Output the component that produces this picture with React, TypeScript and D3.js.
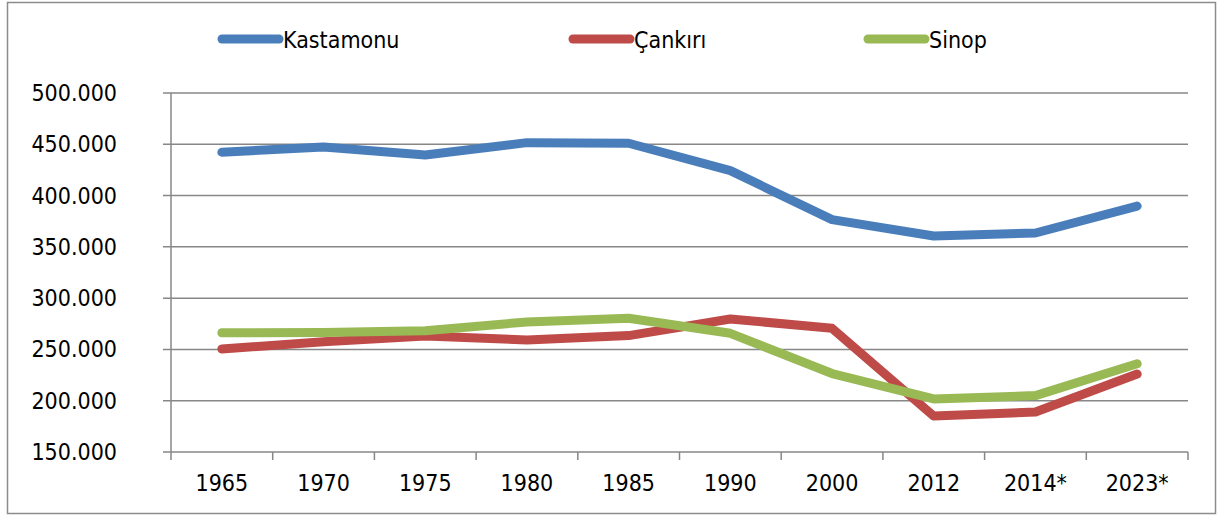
import { useEffect, useRef } from 'react';
import * as d3 from 'd3';

const years = ['1965', '1970', '1975', '1980', '1985', '1990', '2000', '2012', '2014*', '2023*'];
const kastamonu = [442300, 447300, 439600, 451600, 451000, 424300, 376500, 360600, 363500, 389800];
const cankiri = [250400, 257500, 263000, 259200, 263500, 279700, 270600, 185000, 189000, 226000];
const sinop = [266300, 266500, 268300, 276800, 280400, 265700, 226500, 201700, 205000, 236000];
const yTicks = [150000, 200000, 250000, 300000, 350000, 400000, 450000, 500000];

const seriesList = [
  { name: 'Kastamonu', values: kastamonu, color: '#4A7EBB', legendX: 222 },
  { name: 'Çankırı', values: cankiri, color: '#BE4B48', legendX: 573 },
  { name: 'Sinop', values: sinop, color: '#98B954', legendX: 868 },
];

// Turkish style thousands separator
const fmt = (v: number) => d3.format(',')(v).replace(/,/g, '.');

export default function App() {
  const svgRef = useRef<SVGSVGElement>(null);

  useEffect(() => {
    if (!svgRef.current) return;
    const width = 1217;
    const height = 516;
    const margin = { top: 93, right: 29, bottom: 64, left: 171 };
    const font = '"DejaVu Sans Condensed", "DejaVu Sans", sans-serif';

    const svg = d3.select(svgRef.current);
    svg.selectAll('*').remove();
    svg.attr('width', width).attr('height', height);

    // outer frame
    svg
      .append('rect')
      .attr('x', 7.5)
      .attr('y', 2.5)
      .attr('width', 1208)
      .attr('height', 511)
      .attr('fill', '#fff')
      .attr('stroke', '#8c8c8c')
      .attr('stroke-width', 1.5);

    const x = d3
      .scaleBand()
      .domain(years)
      .range([margin.left, width - margin.right]);
    const y = d3
      .scaleLinear()
      .domain([150000, 500000])
      .range([height - margin.bottom, margin.top]);

    const g = svg.append('g');

    // gridlines
    g.selectAll('.grid')
      .data(yTicks)
      .enter()
      .append('line')
      .attr('x1', margin.left - 8)
      .attr('x2', width - margin.right)
      .attr('y1', (d) => y(d))
      .attr('y2', (d) => y(d))
      .attr('stroke', '#878787')
      .attr('stroke-width', 1.5);

    // y axis line
    g.append('line')
      .attr('x1', margin.left)
      .attr('x2', margin.left)
      .attr('y1', margin.top)
      .attr('y2', height - margin.bottom + 8)
      .attr('stroke', '#878787')
      .attr('stroke-width', 1.5);

    // x ticks at band edges
    const edges = years.map((yr) => x(yr)!).concat([width - margin.right]);
    g.selectAll('.xtick')
      .data(edges.slice(1))
      .enter()
      .append('line')
      .attr('x1', (d) => d)
      .attr('x2', (d) => d)
      .attr('y1', height - margin.bottom)
      .attr('y2', height - margin.bottom + 8)
      .attr('stroke', '#878787')
      .attr('stroke-width', 1.5);

    // y labels
    g.selectAll('.ylabel')
      .data(yTicks)
      .enter()
      .append('text')
      .attr('x', 117)
      .attr('y', (d) => y(d))
      .attr('text-anchor', 'end')
      .attr('dominant-baseline', 'central')
      .attr('font-family', font)
      .attr('font-size', '23px')
      .attr('fill', '#000')
      .text((d) => fmt(d));

    // x labels
    g.selectAll('.xlabel')
      .data(years)
      .enter()
      .append('text')
      .attr('x', (d) => x(d)! + x.bandwidth() / 2)
      .attr('y', 491)
      .attr('text-anchor', 'middle')
      .attr('font-family', font)
      .attr('font-size', '23px')
      .attr('fill', '#000')
      .text((d) => d);

    // series lines
    const line = d3
      .line<number>()
      .x((_, i) => x(years[i])! + x.bandwidth() / 2)
      .y((d) => y(d));

    seriesList.forEach((s) => {
      g.append('path')
        .datum(s.values)
        .attr('d', line)
        .attr('fill', 'none')
        .attr('stroke', s.color)
        .attr('stroke-width', 9)
        .attr('stroke-linecap', 'round')
        .attr('stroke-linejoin', 'round');
    });

    // legend
    const legend = svg.append('g');
    seriesList.forEach((s) => {
      legend
        .append('line')
        .attr('x1', s.legendX)
        .attr('x2', s.legendX + 57)
        .attr('y1', 39)
        .attr('y2', 39)
        .attr('stroke', s.color)
        .attr('stroke-width', 9)
        .attr('stroke-linecap', 'round');
      legend
        .append('text')
        .attr('x', s.legendX + 61)
        .attr('y', 40)
        .attr('dominant-baseline', 'central')
        .attr('font-family', font)
        .attr('font-size', '23px')
        .attr('fill', '#000')
        .text(s.name);
    });
  }, []);

  return (
    <>
      <style>{`body{margin:0}`}</style>
      <svg ref={svgRef} style={{ display: 'block' }}></svg>
    </>
  );
}
